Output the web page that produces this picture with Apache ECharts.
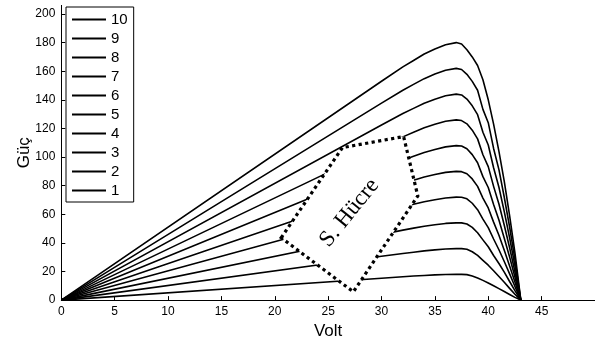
<!DOCTYPE html>
<html>
<head>
<meta charset="utf-8">
<script src="https://cdn.jsdelivr.net/npm/echarts@6/dist/echarts.min.js"></script>
<style>
  html, body { margin: 0; padding: 0; background: #fff; }
  #chart { width: 595px; height: 345px; }
</style>
</head>
<body>
<div id="chart"></div>
<script>
// Voltage sample points (V)
const volts = [0, 30, 32, 33, 34, 35, 36, 37, 37.5, 38, 38.5, 39, 39.5, 40, 40.5, 41, 41.5, 42, 42.5, 43.05];

// Power (W) for 1..10 cells, one array per curve
const power1  = [0, 15.3, 16.3, 16.8, 17.2, 17.6, 17.9, 18.0, 18.0, 17.8, 16.9, 15.5, 13.8, 12.0, 10.0, 8.0, 6.0, 3.9, 1.9, 0];
const power2  = [0, 30.6, 32.6, 33.5, 34.4, 35.1, 35.7, 36.0, 36.0, 35.5, 33.8, 31.2, 27.8, 24.4, 20.5, 16.5, 12.5, 8.2, 4.1, 0];
const power3  = [0, 45.9, 48.9, 50.3, 51.6, 52.7, 53.6, 54.0, 54.0, 53.2, 50.8, 47.1, 42.1, 37.3, 31.2, 25.6, 19.6, 13.0, 6.6, 0];
const power4  = [0, 61.2, 65.2, 67.0, 68.8, 70.2, 71.4, 72.0, 71.9, 70.8, 67.7, 63.2, 56.6, 50.7, 42.7, 35.2, 27.0, 18.3, 9.5, 0];
const power5  = [0, 76.5, 81.5, 83.8, 86.0, 87.8, 89.3, 90.0, 89.8, 88.3, 84.7, 79.5, 71.3, 64.4, 54.5, 45.3, 34.9, 23.9, 12.6, 0];
const power6  = [0, 91.8, 97.8, 100.5, 103.2, 105.3, 107.1, 108.0, 107.7, 105.8, 101.7, 96.0, 86.3, 78.7, 66.8, 56.0, 43.3, 30.1, 16.1, 0];
const power7  = [0, 107.1, 114.1, 117.3, 120.4, 122.9, 125.0, 126.0, 125.5, 123.2, 118.8, 112.7, 101.6, 93.3, 79.5, 67.2, 52.3, 36.6, 19.8, 0];
const power8  = [0, 122.4, 130.4, 134.0, 137.6, 140.4, 142.8, 144.0, 143.4, 140.5, 135.8, 129.6, 117.3, 108.4, 92.5, 78.9, 61.8, 43.6, 23.9, 0];
const power9  = [0, 137.7, 146.7, 150.8, 154.8, 158.0, 160.7, 162.0, 161.2, 157.8, 152.9, 146.7, 133.3, 124.0, 106.0, 91.2, 71.9, 51.1, 28.3, 0];
const power10 = [0, 153.0, 163.0, 167.5, 172.0, 175.5, 178.5, 180.0, 179.0, 175.0, 170.0, 164.0, 154.0, 140.0, 123.0, 104.0, 83.0, 59.0, 33.0, 0];

const curveNames = ['1', '2', '3', '4', '5', '6', '7', '8', '9', '10'];
const curves = [power1, power2, power3, power4, power5, power6, power7, power8, power9, power10];

// Outline of the series-cell region (V, W)
const regionV = [20.6, 26.34, 32.07, 33.4, 27.36];
const regionP = [43.6, 106.6, 114.3, 72.8, 5.8];
const regionLabel = 'S. Hücre';
const regionLabelAt = [27.0, 61.0];

const xTicks = { min: 0, max: 50, interval: 5 };
const yTicks = { min: 0, max: 206, interval: 20 };

const chart = echarts.init(document.getElementById('chart'), null, { renderer: 'canvas' });

const lineSeries = curves.map((vals, i) => ({
  name: curveNames[i],
  type: 'line',
  data: volts.map((v, j) => [v, vals[j]]),
  symbol: 'none',
  smooth: false,
  lineStyle: { color: '#000', width: 1.6, join: 'round' },
  itemStyle: { color: '#000' },
  z: 2,
  silent: true
}));

const regionSeries = {
  type: 'custom',
  data: [[0, 0]],
  z: 5,
  silent: true,
  renderItem: function (params, api) {
    const pts = regionV.map((v, i) => api.coord([v, regionP[i]]));
    const c = api.coord(regionLabelAt);
    return {
      type: 'group',
      children: [
        {
          type: 'polygon',
          shape: { points: pts },
          style: { fill: '#fff', stroke: '#000', lineWidth: 3.2, lineDash: [3.2, 3.4] }
        },
        {
          type: 'text',
          x: c[0],
          y: c[1],
          rotation: 51 * Math.PI / 180,
          style: {
            text: regionLabel,
            font: '23px "Liberation Serif"',
            fill: '#000',
            align: 'center',
            verticalAlign: 'middle'
          }
        }
      ]
    };
  }
};

const axisText = { color: '#000', fontFamily: 'Arial, "Liberation Sans"', fontSize: 12 };

chart.setOption({
  animation: false,
  backgroundColor: '#fff',
  grid: { left: 61.3, right: -4.8, top: 5.4, bottom: 43.3, containLabel: false },
  legend: {
    orient: 'vertical',
    left: 66,
    top: 7,
    data: curveNames.slice().reverse(),
    icon: 'rect',
    itemWidth: 34,
    itemHeight: 2,
    itemGap: 4,
    padding: [5, 6, 4, 6],
    borderColor: '#000',
    borderWidth: 1,
    borderRadius: 0,
    backgroundColor: '#fff',
    itemStyle: { color: '#000' },
    textStyle: { color: '#000', fontFamily: 'Arial, "Liberation Sans"', fontSize: 15, lineHeight: 14 },
    selectedMode: false
  },
  xAxis: {
    type: 'value',
    min: xTicks.min,
    max: xTicks.max,
    interval: xTicks.interval,
    name: 'Volt',
    nameLocation: 'middle',
    nameGap: 21,
    nameTextStyle: { color: '#000', fontFamily: 'Arial, "Liberation Sans"', fontSize: 17 },
    axisLine: { show: true, lineStyle: { color: '#000', width: 1 } },
    axisTick: { show: true, inside: true, length: 4, lineStyle: { color: '#000' } },
    axisLabel: Object.assign({ margin: 6, showMaxLabel: false }, axisText),
    splitLine: { show: false }
  },
  yAxis: {
    type: 'value',
    min: yTicks.min,
    max: yTicks.max,
    interval: yTicks.interval,
    name: 'Güç',
    nameLocation: 'middle',
    nameGap: 28,
    nameMoveOverlap: false,
    nameRotate: 90,
    nameTextStyle: { color: '#000', fontFamily: 'Arial, "Liberation Sans"', fontSize: 17 },
    axisLine: { show: true, lineStyle: { color: '#000', width: 1 } },
    axisTick: { show: true, inside: true, length: 4, lineStyle: { color: '#000' } },
    axisLabel: Object.assign({ margin: 6, showMaxLabel: false }, axisText),
    splitLine: { show: false }
  },
  series: lineSeries.concat([regionSeries])
});
</script>
</body>
</html>
